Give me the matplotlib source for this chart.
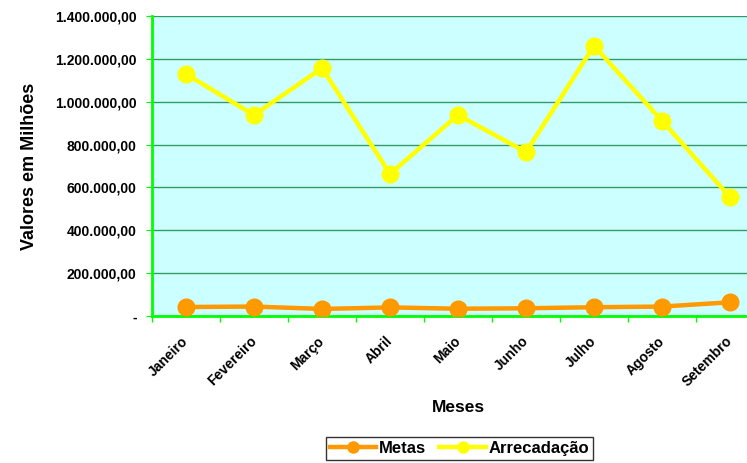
import numpy as np
import matplotlib.pyplot as plt
from matplotlib.lines import Line2D
from matplotlib.ticker import FuncFormatter

plt.rcParams['font.family'] = ['Liberation Sans', 'DejaVu Sans']
plt.rcParams['font.weight'] = 'bold'

meses = ['Janeiro', 'Fevereiro', 'Março', 'Abril', 'Maio', 'Junho', 'Julho', 'Agosto', 'Setembro']
metas = [42000, 44000, 33000, 40000, 34000, 36000, 41000, 44000, 64000]
arrecadacao = [1129000, 938000, 1157000, 663000, 938000, 765000, 1261000, 911000, 555000]


def fmt(v, pos):
    if v == 0:
        return '-'
    s = f'{v:,.2f}'
    return s.replace(',', 'X').replace('.', ',').replace('X', '.')


fig = plt.figure(figsize=(7.47, 4.63), dpi=100)
ax = fig.add_axes([152 / 747, 147 / 463, 612 / 747, 300 / 463])
ax.set_facecolor('#CCFFFF')

x = np.arange(len(meses))
ax.plot(x, metas, color='#FF9900', lw=3.2, marker='o', ms=12, zorder=3)
ax.plot(x, arrecadacao, color='#FFFF00', lw=3.2, marker='o', ms=12, zorder=3)

ax.set_xlim(-0.5, len(meses) - 0.5)
ax.set_ylim(0, 1400000)
ax.set_yticks(np.arange(0, 1400001, 200000))
ax.yaxis.set_major_formatter(FuncFormatter(fmt))
ax.grid(axis='y', color='#339966', lw=1)
ax.set_axisbelow(True)

# labels sit a little left of the category centre, like the original
ax.set_xticks(x - 0.07)
ax.set_xticklabels(meses, rotation=45, ha='right', va='top', rotation_mode='anchor',
                   fontsize=10, fontweight='bold')
ax.set_xticks(np.arange(-0.5, len(meses)), minor=True)
ax.tick_params(axis='x', which='major', length=0, pad=13)
ax.tick_params(axis='x', which='minor', length=4, color='#00FF00', width=1)
ax.tick_params(axis='y', length=4, color='#00FF00', labelsize=10, pad=7)
for lbl in ax.get_yticklabels():
    lbl.set_fontweight('bold')

for side in ['left', 'bottom']:
    ax.spines[side].set_color('#00FF00')
    ax.spines[side].set_linewidth(2)
for side in ['top', 'right']:
    ax.spines[side].set_visible(False)

ax.set_ylabel('Valores em Milhões', fontsize=13, fontweight='bold', labelpad=12)
fig.text(458 / 747, 1 - 408 / 463, 'Meses', fontsize=12.5, fontweight='bold', ha='center', va='center')

handles = [Line2D([], [], color='#FF9900', lw=3.2, marker='o', ms=8),
           Line2D([], [], color='#FFFF00', lw=3.2, marker='o', ms=8)]
leg = fig.legend(handles, ['Metas', 'Arrecadação'], loc='upper center',
                 bbox_to_anchor=(459.5 / 747, 1 - 437 / 463), ncol=2,
                 frameon=True, fancybox=False, edgecolor='black', handlelength=2.8,
                 handletextpad=0.15, columnspacing=0.8, borderpad=0.25, borderaxespad=0,
                 prop={'weight': 'bold', 'size': 12})
leg.get_frame().set_linewidth(1)

fig.savefig('out.png', dpi=100)
